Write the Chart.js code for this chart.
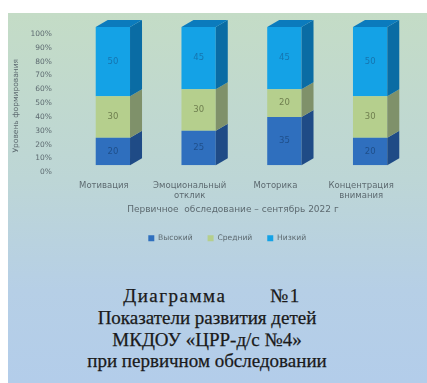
<!DOCTYPE html>
<html>
<head>
<meta charset="utf-8">
<script src="https://cdn.jsdelivr.net/npm/chart.js@4.4.1/dist/chart.umd.min.js"></script>
<style>
  html, body { margin: 0; padding: 0; background: #fff; }
  body { width: 427px; height: 383px; position: relative; overflow: hidden; }
  #panel {
    position: absolute; left: 8px; top: 13px; right: 0; bottom: 0;
    background: linear-gradient(180deg, #c4dcc6 0%, #bdd6d6 45%, #b6cfe6 75%, #b3cdea 100%);
  }
  #chartBox { position: absolute; left: 0; top: 0; width: 427px; height: 252px; }
  #caption {
    position: absolute; left: 0; top: 285px; width: 414px;
    text-align: center; white-space: pre;
    font-family: "Liberation Serif", "DejaVu Serif", serif;
    font-size: 19px; line-height: 21.8px; color: #1a1a1a;
    -webkit-text-stroke: 0.25px #1a1a1a;
  }
  #caption .first { letter-spacing: 1.5px; padding-left: 10px; }
</style>
</head>
<body>
<div id="panel"></div>
<div id="chartBox"><canvas id="c" width="427" height="252"></canvas></div>
<div id="caption"><span class="first">Диаграмма       №1</span>
Показатели развития детей
МКДОУ «ЦРР-д/с №4»
при первичном обследовании</div>
<script>
// values
const categories = ['Мотивация', ['Эмоциональный', 'отклик'], 'Моторика', ['Концентрация', 'внимания']];
const highValues = [20, 25, 35, 20];
const midValues = [30, 30, 20, 30];
const lowValues = [50, 45, 45, 50];
const yTicks = [0, 10, 20, 30, 40, 50, 60, 70, 80, 90, 100];

const faceColors = ['#2f6fbe', '#b5cf8d', '#14a2e6'];
const sideColors = ['#1f4b86', '#7f916a', '#0a6ca4'];
const topColor = '#0b7bbd';
const labelColors = ['#1f4f8a', '#6f7f4f', '#1575b0'];
const textColor = '#5d6a70';
const DX = 12, DY = 7;

// draws the 3D side and top faces plus the value labels
const boxPlugin = {
  id: 'box3d',
  afterLayout(chart) {
    // legend sits a little right of centre in the reference
    chart.legend.left += 15;
    chart.legend.right += 15;
  },
  afterDatasetsDraw(chart) {
    const ctx = chart.ctx;
    const n = chart.data.datasets.length;
    chart.data.datasets.forEach((ds, di) => {
      const meta = chart.getDatasetMeta(di);
      meta.data.forEach((bar, i) => {
        const w = bar.width, r = bar.x + w / 2, l = bar.x - w / 2;
        ctx.save();
        ctx.fillStyle = sideColors[di];
        ctx.beginPath();
        ctx.moveTo(r, bar.y);
        ctx.lineTo(r + DX, bar.y - DY);
        ctx.lineTo(r + DX, bar.base - DY);
        ctx.lineTo(r, bar.base);
        ctx.closePath();
        ctx.fill();
        if (di === n - 1) {
          ctx.fillStyle = topColor;
          ctx.beginPath();
          ctx.moveTo(l, bar.y);
          ctx.lineTo(l + DX, bar.y - DY);
          ctx.lineTo(r + DX, bar.y - DY);
          ctx.lineTo(r, bar.y);
          ctx.closePath();
          ctx.fill();
        }
        ctx.fillStyle = labelColors[di];
        ctx.font = '8.5px "DejaVu Sans"';
        ctx.textAlign = 'center';
        ctx.textBaseline = 'middle';
        ctx.fillText(String(ds.data[i]), bar.x, (bar.y + bar.base) / 2);
        ctx.restore();
      });
    });
  }
};

Chart.defaults.font.family = '"DejaVu Sans", Verdana, sans-serif';
Chart.defaults.color = textColor;

new Chart(document.getElementById('c'), {
  type: 'bar',
  data: {
    labels: categories,
    datasets: [
      { label: 'Высокий', data: highValues, backgroundColor: faceColors[0] },
      { label: 'Средний', data: midValues, backgroundColor: faceColors[1] },
      { label: 'Низкий', data: lowValues, backgroundColor: faceColors[2] }
    ]
  },
  options: {
    responsive: false,
    animation: false,
    layout: { padding: { left: 11.5, right: 14, top: 27, bottom: 0 } },
    datasets: { bar: { barPercentage: 0.4, categoryPercentage: 1 } },
    plugins: {
      tooltip: { enabled: false },
      legend: {
        position: 'bottom',
        labels: { boxWidth: 6, boxHeight: 6, padding: 15, font: { size: 7.6 }, color: textColor }
      }
    },
    scales: {
      x: {
        stacked: true,
        grid: { display: false, drawTicks: false },
        border: { display: false },
        ticks: { padding: 15, labelOffset: -9, maxRotation: 0, font: { size: 8.5, lineHeight: 1.25 }, color: textColor },
        title: { display: true, text: 'Первичное  обследование – сентябрь 2022 г      ', font: { size: 9 }, color: textColor, padding: { top: -12, bottom: 4 } }
      },
      y: {
        stacked: true,
        min: 0, max: 100,
        afterBuildTicks(axis) { axis.ticks = yTicks.map(v => ({ value: v })); },
        afterFit(axis) { axis.width = 58.5; },
        grid: { display: false, drawTicks: false },
        border: { display: false },
        ticks: { padding: 18, labelOffset: 7, font: { size: 7.5 }, color: textColor, callback: v => v + '%' },
        title: { display: true, text: 'Уровень формирования        ', font: { size: 7.5 }, color: textColor, padding: { top: 0, bottom: 0 } }
      }
    }
  },
  plugins: [boxPlugin]
});
</script>
</body>
</html>
